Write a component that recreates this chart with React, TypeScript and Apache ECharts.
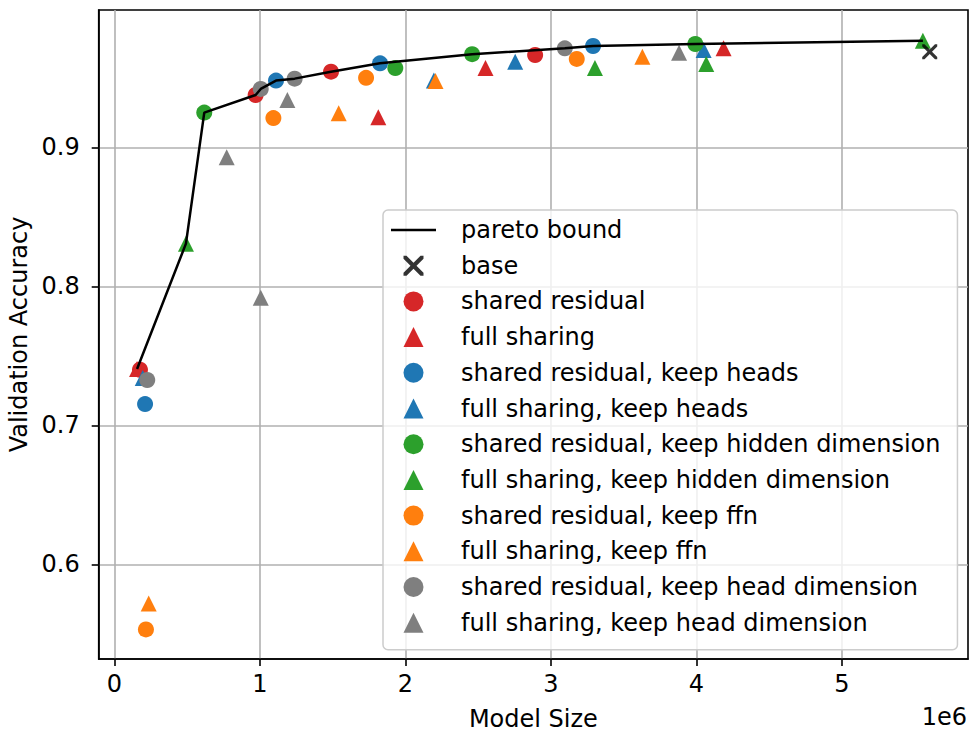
import React, { useEffect, useRef } from "react";
import * as echarts from "echarts";

// ---------------- data ----------------
const xTickValues = [0, 1e6, 2e6, 3e6, 4e6, 5e6];
const yTickValues = [0.6, 0.7, 0.8, 0.9];

const baseX = [5603000];
const baseY = [0.9688];

const sharedResidualX = [175000, 970000, 1488000, 2891000];
const sharedResidualY = [0.740, 0.9376, 0.9544, 0.9664];

const fullSharingX = [155000, 1813000, 2550000, 4186000];
const fullSharingY = [0.7405, 0.9216, 0.957, 0.9712];

const srKeepHeadsX = [210000, 1110000, 1825000, 3289000];
const srKeepHeadsY = [0.7153, 0.948, 0.9604, 0.9729];

const fsKeepHeadsX = [194000, 2195000, 2754000, 4049000];
const fsKeepHeadsY = [0.734, 0.948, 0.9616, 0.970];

const srKeepHiddenX = [617000, 1930000, 2458000, 3992000];
const srKeepHiddenY = [0.925, 0.957, 0.967, 0.9743];

const fsKeepHiddenX = [491000, 3302000, 4067000, 5556000];
const fsKeepHiddenY = [0.8307, 0.957, 0.960, 0.9767];

const srKeepFfnX = [216000, 1092000, 1729000, 3177000];
const srKeepFfnY = [0.5532, 0.921, 0.950, 0.9636];

const fsKeepFfnX = [235000, 1541000, 2206000, 3628000];
const fsKeepFfnY = [0.5719, 0.9245, 0.9477, 0.9652];

const srKeepHeadDimX = [225000, 1005000, 1238000, 3095000];
const srKeepHeadDimY = [0.7326, 0.942, 0.9494, 0.9712];

const fsKeepHeadDimX = [771000, 1005000, 1188000, 3880000];
const fsKeepHeadDimY = [0.8928, 0.7918, 0.934, 0.968];

// --------------------------------------
const RED = "#d62728";
const BLUE = "#1f77b4";
const GREEN = "#2ca02c";
const ORANGE = "#ff7f0e";
const GRAY = "#7f7f7f";

const X_PATH =
  "path://M0,0 L3,0 L10,7 L17,0 L20,0 L20,3 L13,10 L20,17 L20,20 L17,20 L10,13 L3,20 L0,20 L0,17 L7,10 L0,3 Z";
const TRI_PATH = "path://M0,16 L8,0 L16,16 Z";
const CIRCLE_PATH = "path://M0,8 A8,8 0 1 1 16,8 A8,8 0 1 1 0,8 Z";
const LINE_ICON = "path://M0,0 L45,0 L45,2.5 L0,2.5 Z";

const groups = [
  { name: "shared residual", color: RED, shape: "circle", xs: sharedResidualX, ys: sharedResidualY },
  { name: "full sharing", color: RED, shape: "triangle", xs: fullSharingX, ys: fullSharingY },
  { name: "shared residual, keep heads", color: BLUE, shape: "circle", xs: srKeepHeadsX, ys: srKeepHeadsY },
  { name: "full sharing, keep heads", color: BLUE, shape: "triangle", xs: fsKeepHeadsX, ys: fsKeepHeadsY },
  { name: "shared residual, keep hidden dimension", color: GREEN, shape: "circle", xs: srKeepHiddenX, ys: srKeepHiddenY },
  { name: "full sharing, keep hidden dimension", color: GREEN, shape: "triangle", xs: fsKeepHiddenX, ys: fsKeepHiddenY },
  { name: "shared residual, keep ffn", color: ORANGE, shape: "circle", xs: srKeepFfnX, ys: srKeepFfnY },
  { name: "full sharing, keep ffn", color: ORANGE, shape: "triangle", xs: fsKeepFfnX, ys: fsKeepFfnY },
  { name: "shared residual, keep head dimension", color: GRAY, shape: "circle", xs: srKeepHeadDimX, ys: srKeepHeadDimY },
  { name: "full sharing, keep head dimension", color: GRAY, shape: "triangle", xs: fsKeepHeadDimX, ys: fsKeepHeadDimY },
];

function paretoFrontier(): number[][] {
  const pts: number[][] = [];
  groups.forEach((g) => g.xs.forEach((x, i) => pts.push([x, g.ys[i]])));
  baseX.forEach((x, i) => pts.push([x, baseY[i]]));
  pts.sort((a, b) => a[0] - b[0]);
  const out: number[][] = [];
  let best = -Infinity;
  for (const p of pts) {
    if (p[1] > best) {
      out.push(p);
      best = p[1];
    }
  }
  return out;
}

const FONT = "DejaVu Sans";
const FS = 24;

export default function App() {
  const ref = useRef<HTMLDivElement>(null);
  useEffect(() => {
    if (!ref.current) return;
    const chart = echarts.init(ref.current, undefined, { renderer: "svg" });

    const scatterSeries = groups.map((g) => ({
      type: "scatter",
      name: g.name,
      data: g.xs.map((x, i) => [x, g.ys[i]]),
      symbol: g.shape,
      symbolSize: 16,
      itemStyle: { color: g.color, opacity: 1 },
      z: 2,
      emphasis: { disabled: true },
    }));

    const option: any = {
      animation: false,
      grid: {
        left: 98.7,
        right: 1,
        top: 10,
        bottom: 71,
        containLabel: false,
        outerBoundsMode: "none",
        show: true,
        borderColor: "#000",
        borderWidth: 1.6,
        backgroundColor: "transparent",
      },
      xAxis: {
        type: "value",
        min: -108600,
        max: 5866000,
        name: "Model Size",
        nameLocation: "middle",
        nameGap: 50,
        nameTextStyle: { fontFamily: FONT, fontSize: FS, lineHeight: 20, color: "#000" },
        axisLine: { show: true, onZero: false, lineStyle: { color: "#000", width: 1.6 } },
        axisTick: { show: true, inside: false, length: 7, lineStyle: { color: "#000", width: 1.6 }, customValues: xTickValues },
        axisLabel: {
          customValues: xTickValues,
          formatter: (v: number) => String(Math.round(v / 1e6)),
          fontFamily: FONT,
          fontSize: FS,
          color: "#000",
          margin: 12.5,
        },
        splitLine: { show: true, lineStyle: { color: "#b0b0b0", width: 1.6 } },
      },
      yAxis: {
        type: "value",
        min: 0.5319,
        max: 0.99878,
        name: "Validation Accuracy",
        nameLocation: "middle",
        nameGap: 65,
        nameTextStyle: { fontFamily: FONT, fontSize: FS, color: "#000" },
        axisLine: { show: true, onZero: false, lineStyle: { color: "#000", width: 1.6 } },
        axisTick: { show: true, inside: false, length: 7, lineStyle: { color: "#000", width: 1.6 }, customValues: yTickValues },
        axisLabel: {
          customValues: yTickValues,
          formatter: (v: number) => v.toFixed(1),
          fontFamily: FONT,
          fontSize: FS,
          color: "#000",
          margin: 19,
        },
        splitLine: { show: true, lineStyle: { color: "#b0b0b0", width: 1.6 } },
      },
      legend: {
        show: true,
        orient: "vertical",
        left: 383,
        top: 210,
        padding: [8, 17, 15, 8],
        itemWidth: 45,
        itemHeight: 20,
        itemGap: 11.7,
        symbolKeepAspect: true,
        selectedMode: false,
        backgroundColor: "rgba(255,255,255,0.8)",
        borderColor: "#cccccc",
        borderWidth: 1.5,
        borderRadius: 5,
        textStyle: { fontFamily: FONT, fontSize: FS, lineHeight: 24, color: "#000", padding: [0, 0, 0, 20] },
        data: [
          { name: "pareto bound", icon: LINE_ICON, itemStyle: { color: "#000" } },
          { name: "base", icon: X_PATH },
          ...groups.map((g) => ({ name: g.name, icon: g.shape === "circle" ? CIRCLE_PATH : TRI_PATH })),
        ],
      },
      graphic: [
        {
          type: "text",
          right: 2,
          top: 705,
          style: { text: "1e6", fontFamily: FONT, fontSize: FS, fill: "#000" },
        },
      ],
      series: [
        ...scatterSeries,
        {
          type: "scatter",
          name: "base",
          data: baseX.map((x, i) => [x, baseY[i]]),
          symbol: X_PATH,
          symbolSize: 15,
          itemStyle: { color: "#000" },
          z: 3,
          emphasis: { disabled: true },
        },
        {
          type: "line",
          name: "pareto bound",
          data: paretoFrontier(),
          symbol: "none",
          showSymbol: false,
          lineStyle: { color: "#000", width: 2.5 },
          itemStyle: { color: "#000" },
          z: 4,
          emphasis: { disabled: true },
        },
      ],
    };
    chart.setOption(option);
    return () => chart.dispose();
  }, []);

  return (
    <div
      ref={ref}
      style={{ position: "fixed", left: 0, top: 0, width: 969, height: 730, background: "#fff" }}
    />
  );
}
